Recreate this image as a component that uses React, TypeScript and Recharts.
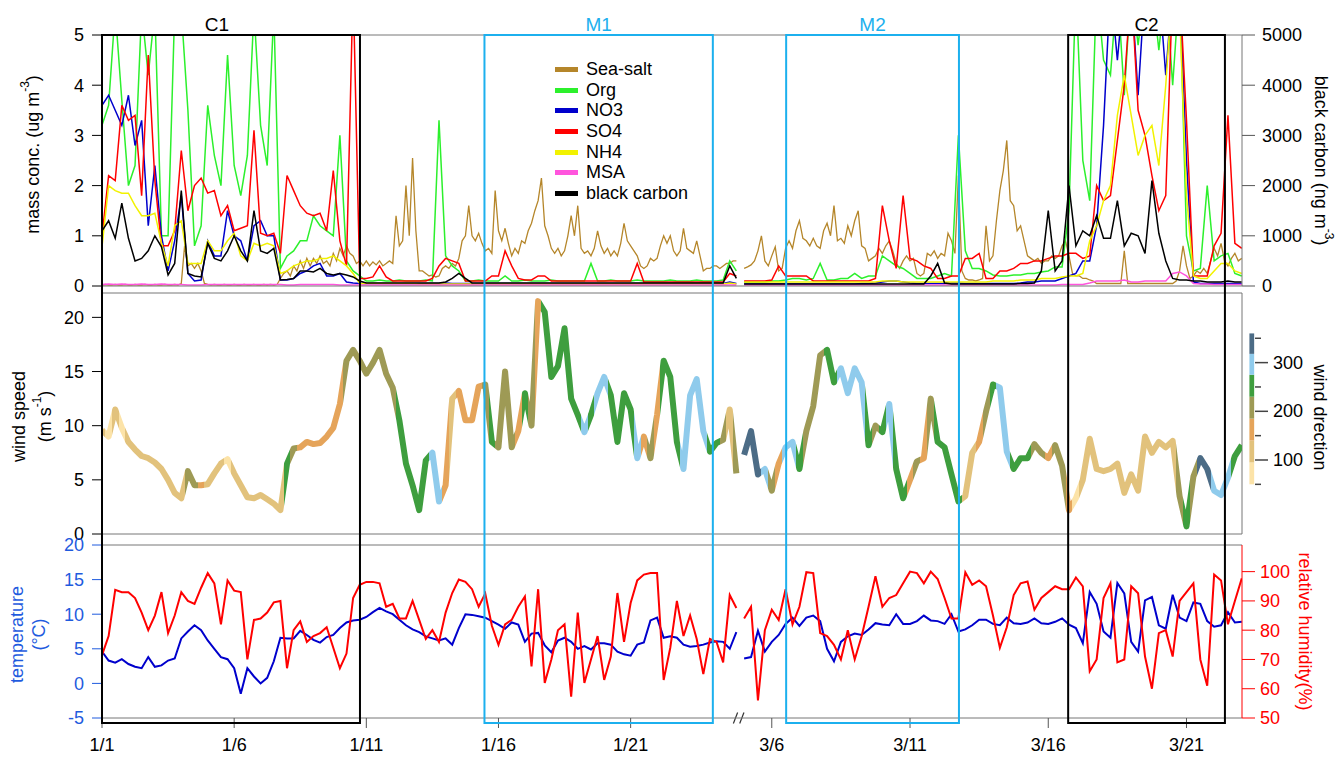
import React from 'react';
import {
  ComposedChart,
  Line,
  XAxis,
  YAxis,
  ReferenceArea,
  ReferenceLine,
  Legend,
} from 'recharts';

const FONT = '"Liberation Sans", Arial, sans-serif';
const WIDTH = 1336;
const CYAN = '#1CB0EE';
const TEMP_LINE = '#0000CC';
const TEMP_TEXT = '#1F5BDE';
const RH_RED = '#FF0000';
const FRAME = '#777';

// samples every 6 h (sea-salt every 3 h): 1/1 -> 1/25 and 3/5 -> 3/23
const STEP = 0.25;
const SALT_STEP = 0.125;
const JAN_FIRST = 1;
const MAR_FIRST = 5;

// broken time axis, in January-day units; March days are drawn a little wider
const MAR6_POS = 25.34;
const MAR_SCALE = 1.046;
const T_MAX = 43.13;
const janPos = (day: number) => day - 1;
const marPos = (day: number) => MAR6_POS + (day - 6) * MAR_SCALE;
const datePos = (month: number, day: number) => (month === 1 ? janPos(day) : marPos(day));

const TICK_DATES: [number, number][] = [
  [1, 1], [1, 6], [1, 11], [1, 16], [1, 21], [3, 6], [3, 11], [3, 16], [3, 21],
];

const MASS_TICKS = [0, 1, 2, 3, 4, 5];
const BC_TICKS = [0, 1000, 2000, 3000, 4000, 5000];
const WS_TICKS = [0, 5, 10, 15, 20];
const WS_MAX = 22.25;
const WD_DOMAIN = [-52, 443];
const WD_TICKS = [50, 100, 150, 200, 250, 300, 350];
const WD_LABELLED = [100, 200, 300];
const TEMP_TICKS = [-5, 0, 5, 10, 15, 20];
const RH_TICKS = [50, 60, 70, 80, 90, 100];
const RH_TOP = 109.1;

// wind direction colour bins (degrees)
const WD_FROM = 50;
const WD_BINS = [
  { upTo: 95, color: '#FCE3A8' },
  { upTo: 140, color: '#E2C27C' },
  { upTo: 185, color: '#E5A45A' },
  { upTo: 230, color: '#9E9A55' },
  { upTo: 275, color: '#3E9E3E' },
  { upTo: 318, color: '#8FCBEC' },
  { upTo: 360, color: '#4C6C86' },
];
const COLORBAR_X = [43.41, 43.59];

const PERIODS = [
  { name: 'C1', from: [1, 1], to: [1, 10.76], color: '#000', labelDx: -14 },
  { name: 'M1', from: [1, 15.47], to: [1, 24.11], color: CYAN, labelDx: 0 },
  { name: 'M2', from: [3, 6.52], to: [3, 12.77], color: CYAN, labelDx: 0 },
  { name: 'C2', from: [3, 16.72], to: [3, 22.39], color: '#000', labelDx: 0 },
];

const TOP_SERIES = [
  { key: 'seaSalt', name: 'Sea-salt', color: '#B5862A', axis: 'mass' },
  { key: 'org', name: 'Org', color: '#2CF02C', axis: 'mass' },
  { key: 'no3', name: 'NO3', color: '#0000CC', axis: 'mass' },
  { key: 'so4', name: 'SO4', color: '#FF0000', axis: 'mass' },
  { key: 'nh4', name: 'NH4', color: '#F2F200', axis: 'mass' },
  { key: 'msa', name: 'MSA', color: '#FF55DD', axis: 'mass' },
  { key: 'bc', name: 'black carbon', color: '#000000', axis: 'bc' },
];

// ---- sea-salt, 3-hourly (one line per day) ----
const SEA_SALT_JAN = [
  0.02, 0.03, 0.02, 0.02, 0.03, 0.02, 0.02, 0.03,
  0.02, 0.02, 0.03, 0.02, 0.02, 0.03, 0.02, 0.02,
  0.03, 0.02, 0.02, 0.03, 0.02, 0.02, 0.03, 0.02,
  0.05, 0.8, 0.4, 0.45, 0.35, 0.45, 0.3, 0.05,
  0.03, 0.02, 0.03, 0.02, 0.02, 0.03, 0.02, 0.02,
  0.03, 0.02, 0.02, 0.03, 0.02, 0.02, 0.03, 0.02,
  0.02, 0.03, 0.02, 0.03, 0.02, 0.03, 0.15, 0.25,
  0.3, 0.2, 0.4, 0.3, 0.5, 0.35, 0.55, 0.4,
  0.55, 0.45, 0.6, 0.45, 0.5, 0.4, 0.65, 0.5,
  0.75, 0.6, 0.8, 0.65, 0.6, 0.45, 0.5, 0.4,
  0.5, 0.4, 0.48, 0.42, 0.5, 0.4, 0.45, 0.5,
  0.45, 1.4, 0.8, 0.9, 2.0, 1.0, 2.55, 1.1,
  0.3, 0.3, 0.25, 0.2, 0.22, 0.18, 0.2, 0.35,
  0.4, 0.35, 0.45, 0.4, 0.55, 0.9, 1.0, 1.6,
  1.0, 0.9, 1.05, 0.85, 0.7, 0.75, 0.65, 1.9,
  1.1, 0.9, 1.15, 0.85, 0.6, 0.75, 0.65, 0.9,
  0.85, 1.1, 1.25, 1.5, 1.7, 2.15, 1.2, 1.0,
  0.75, 0.65, 0.75, 0.6, 0.7, 1.0, 1.4, 1.0,
  1.6, 0.75, 0.65, 0.7, 0.6, 0.75, 1.1, 0.8,
  0.65, 0.75, 0.6, 0.7, 0.6, 0.85, 1.25, 0.9,
  0.8, 0.7, 0.6, 0.4, 0.35, 0.4, 0.55, 0.5,
  0.55, 0.8, 1.0, 0.85, 1.0, 0.7, 0.6, 0.7,
  1.15, 0.75, 0.7, 0.65, 0.9, 0.6, 0.3, 0.35,
  0.35, 0.4, 0.4, 0.35, 0.4, 0.45, 0.45, 0.5,
  0.5,
];
const SEA_SALT_MAR = [
  0.35, 0.38, 0.42, 0.5, 0.7, 1.0, 0.5, 0.4,
  0.6, 0.78, 0.3, 0.35, 0.75, 0.9, 0.75, 1.1,
  1.3, 0.95, 0.9, 0.8, 0.95, 0.8, 0.75, 1.1,
  1.25, 1.0, 1.6, 0.9, 0.95, 0.85, 1.2, 1.0,
  1.3, 1.5, 0.8, 0.75, 0.5, 0.55, 0.6, 0.75,
  0.65, 0.8, 0.9, 0.7, 0.45, 0.35, 0.5, 0.6,
  0.5, 0.55, 0.25, 0.2, 0.25, 0.65, 0.6, 0.7,
  0.55, 0.65, 0.6, 1.05, 0.9, 0.65, 2.2, 0.3,
  0.15, 0.12, 0.12, 0.1, 0.12, 0.15, 1.2, 0.5,
  0.6, 1.3, 1.9, 2.3, 2.9, 1.7, 1.6, 1.1,
  1.2, 0.9, 0.6, 0.55, 0.5, 0.55, 0.45, 0.5,
  0.5, 0.6, 0.55, 0.6, 0.8, 0.9, 0.6, 0.25,
  0.2, 0.2, 0.15, 0.15, 0.12, 0.1, 0.05, 0.05,
  0.05, 0.05, 0.05, 0.05, 0.05, 0.05, 0.7, 0.05,
  0.05, 0.05, 0.05, 0.05, 0.05, 0.05, 0.05, 0.05,
  0.05, 0.05, 0.05, 0.05, 0.05, 0.1, 0.3, 0.8,
  0.4, 0.15, 0.2, 0.3, 0.25, 0.35, 0.25, 0.5,
  0.75, 0.6, 0.85, 0.5, 0.4, 0.55, 0.65, 0.5,
  0.55,
];

// ---- January (1/1 .. 1/25, 6-hourly) ----
const ORG_JAN = [
  3.2, 3.6, 5.5, 3.7, 2.0, 2.4, 5.5, 4.2, 5.5, 1.0, 1.0, 5.5,
  5.5, 3.5, 0.8, 1.2, 3.6, 2.6, 2.0, 4.6, 2.4, 1.8, 2.6, 5.5,
  3.2, 2.4, 5.5, 0.35, 0.6, 0.7, 0.9, 0.9, 1.4, 1.2, 1.1, 1.0,
  3.0, 0.5, 0.3, 0.2, 0.1, 0.1, 0.12, 0.1, 0.1, 0.12, 0.1, 0.1,
  0.1, 0.12, 0.1, 3.3, 0.6, 0.4, 0.3, 0.1, 0.1, 0.12, 0.1, 0.1,
  0.1, 0.2, 0.1, 0.1, 0.12, 0.1, 0.1, 0.1, 0.12, 0.1, 0.1, 0.1,
  0.1, 0.1, 0.45, 0.1, 0.1, 0.12, 0.1, 0.1, 0.1, 0.12, 0.1, 0.1,
  0.1, 0.1, 0.12, 0.1, 0.1, 0.1, 0.12, 0.1, 0.1, 0.1, 0.12, 0.5,
  0.3,
];
const NO3_JAN = [
  3.6, 3.8, 3.5, 3.2, 3.8, 2.8, 3.3, 1.2, 2.4, 1.0, 0.3, 0.9,
  1.8, 0.25, 0.1, 0.12, 0.9, 0.6, 0.6, 1.5, 1.0, 0.9, 0.5, 1.2,
  1.3, 1.0, 1.0, 0.12, 0.12, 0.15, 0.25, 0.3, 0.4, 0.45, 0.2, 0.2,
  0.25, 0.08, 0.06, 0.05, 0.05, 0.05, 0.05, 0.05, 0.05, 0.05, 0.05, 0.05,
  0.05, 0.05, 0.05, 0.05, 0.06, 0.05, 0.05, 0.05, 0.05, 0.05, 0.05, 0.05,
  0.05, 0.05, 0.05, 0.05, 0.05, 0.05, 0.05, 0.05, 0.05, 0.05, 0.05, 0.05,
  0.05, 0.05, 0.05, 0.05, 0.05, 0.05, 0.05, 0.05, 0.05, 0.05, 0.05, 0.05,
  0.05, 0.05, 0.05, 0.05, 0.05, 0.05, 0.05, 0.05, 0.05, 0.05, 0.05, 0.08,
  0.05,
];
const SO4_JAN = [
  1.0, 2.2, 2.1, 3.6, 3.3, 3.4, 1.8, 4.6, 2.1, 0.8, 0.8, 1.1,
  2.7, 1.5, 2.0, 2.15, 1.85, 1.9, 1.4, 1.6, 1.1, 1.15, 1.2, 3.1,
  1.05, 1.0, 1.05, 0.65, 2.2, 1.9, 1.6, 1.45, 1.4, 1.45, 1.1, 2.3,
  0.9, 0.4, 6.0, 0.15, 0.15, 0.18, 0.4, 0.18, 0.1, 0.1, 0.1, 0.1,
  0.1, 0.1, 0.15, 0.4, 0.55, 0.5, 0.45, 0.1, 0.1, 0.1, 0.1, 0.2,
  0.2, 0.7, 0.4, 0.15, 0.12, 0.12, 0.2, 0.2, 0.1, 0.1, 0.1, 0.1,
  0.1, 0.1, 0.1, 0.1, 0.1, 0.1, 0.1, 0.1, 0.1, 0.45, 0.08, 0.08,
  0.08, 0.08, 0.08, 0.08, 0.08, 0.08, 0.08, 0.08, 0.08, 0.08, 0.08, 0.25,
  0.2,
];
const NH4_JAN = [
  0.78, 2.0, 1.9, 1.85, 1.85, 1.6, 1.4, 1.4, 1.45, 0.85, 0.4, 1.2,
  1.3, 0.45, 0.45, 0.45, 0.9, 0.7, 0.7, 0.9, 1.05, 0.6, 0.5, 0.85,
  0.8, 0.85, 0.8, 0.25, 0.3, 0.4, 0.45, 0.5, 0.5, 0.55, 0.55, 0.6,
  0.5, 0.4, 0.25, 0.05, 0.05, 0.05, 0.05, 0.05, 0.05, 0.05, 0.05, 0.05,
  0.04, 0.04, 0.04, 0.04, 0.04, 0.04, 0.04, 0.04, 0.04, 0.04, 0.04, 0.04,
  0.04, 0.04, 0.04, 0.04, 0.04, 0.04, 0.04, 0.04, 0.04, 0.04, 0.04, 0.04,
  0.04, 0.04, 0.04, 0.04, 0.04, 0.04, 0.04, 0.04, 0.04, 0.04, 0.04, 0.04,
  0.04, 0.04, 0.04, 0.04, 0.04, 0.04, 0.04, 0.04, 0.04, 0.04, 0.04, 0.06,
  0.04,
];
const MSA_JAN = [
  0.03, 0.04, 0.03, 0.04, 0.03, 0.03, 0.04, 0.03, 0.03, 0.04, 0.03, 0.03,
  0.03, 0.02, 0.02, 0.02, 0.03, 0.03, 0.03, 0.03, 0.03, 0.03, 0.03, 0.03,
  0.03, 0.03, 0.03, 0.03, 0.02, 0.02, 0.03, 0.03, 0.03, 0.03, 0.03, 0.03,
  0.02, 0.02, 0.02, 0.02, 0.02, 0.02, 0.02, 0.02, 0.02, 0.02, 0.02, 0.02,
  0.02, 0.02, 0.02, 0.02, 0.02, 0.02, 0.02, 0.02, 0.02, 0.02, 0.02, 0.02,
  0.02, 0.02, 0.02, 0.02, 0.02, 0.02, 0.02, 0.02, 0.02, 0.02, 0.02, 0.02,
  0.02, 0.02, 0.02, 0.02, 0.02, 0.02, 0.02, 0.02, 0.02, 0.02, 0.02, 0.02,
  0.02, 0.02, 0.02, 0.02, 0.02, 0.02, 0.02, 0.02, 0.02, 0.02, 0.02, 0.02,
  0.02,
];
const BC_JAN = [
  1100, 1300, 950, 1650, 950, 500, 550, 700, 1000, 780, 220, 450,
  1900, 250, 200, 180, 850, 550, 500, 700, 1000, 700, 500, 1500,
  700, 650, 750, 120, 130, 150, 300, 300, 280, 350, 250, 220,
  250, 220, 180, 100, 60, 60, 60, 60, 60, 60, 60, 60,
  60, 60, 60, 60, 80, 150, 250, 150, 60, 60, 60, 60,
  60, 60, 60, 60, 60, 60, 60, 60, 60, 60, 60, 60,
  60, 60, 60, 60, 60, 60, 60, 60, 60, 60, 60, 60,
  60, 60, 60, 60, 60, 60, 60, 60, 60, 60, 60, 400,
  150,
];
const WS_JAN = [
  9.6, 9.0, 11.5, 9.8, 8.5, 7.8, 7.2, 7.0, 6.6, 6.0, 5.0, 3.8,
  3.3, 5.8, 4.5, 4.5, 4.6, 5.6, 6.5, 6.9, 5.6, 4.5, 3.4, 3.3,
  3.6, 3.2, 2.8, 2.2, 6.5, 7.9, 8.0, 8.5, 8.3, 8.4, 9.0, 9.8,
  12.0, 16.0, 17.0, 16.0, 14.8, 15.8, 17.0, 14.8, 13.5, 10.5, 6.5, 4.5,
  2.2, 6.8, 7.5, 3.0, 4.5, 12.5, 13.2, 10.5, 10.5, 13.6, 13.8, 8.5,
  8.0, 15.0, 8.0, 9.5, 13.0, 10.0, 21.5, 20.5, 14.5, 15.5, 19.0, 12.5,
  11.0, 9.4, 11.0, 13.0, 14.5, 12.8, 8.5, 13.0, 11.5, 7.0, 9.0, 7.0,
  11.0, 16.0, 14.5, 8.5, 6.0, 12.8, 14.3, 9.5, 7.6, 8.4, 8.7, 11.5,
  5.6,
];
const WD_JAN = [
  120, 75, 120, 75, 120, 120, 120, 120, 120, 120, 120, 120,
  120, 210, 210, 165, 120, 120, 120, 75, 120, 120, 120, 120,
  120, 120, 120, 120, 250, 210, 165, 165, 165, 165, 165, 165,
  165, 210, 210, 210, 210, 210, 210, 210, 210, 250, 250, 250,
  250, 250, 295, 295, 165, 120, 165, 165, 165, 165, 210, 250,
  210, 210, 210, 165, 250, 210, 165, 250, 250, 250, 250, 250,
  250, 295, 250, 295, 295, 250, 250, 250, 250, 295, 165, 210,
  165, 250, 250, 250, 295, 295, 295, 295, 250, 250, 210, 120,
  210,
];
const TEMP_JAN = [
  4.6, 3.3, 3.0, 3.5, 2.8, 2.4, 2.2, 3.8, 2.4, 2.6, 3.3, 3.6,
  6.5, 7.5, 8.4, 7.7, 6.2, 5.0, 3.8, 3.5, 2.2, -1.5, 2.2, 1.0,
  0.0, 0.8, 3.2, 6.6, 6.5, 6.5, 7.6, 7.0, 6.3, 5.9, 6.7, 7.0,
  8.0, 8.8, 9.1, 9.2, 9.6, 10.3, 10.9, 10.4, 10.0, 9.2, 8.4, 7.8,
  7.4, 6.8, 6.5, 6.2, 6.5, 5.6, 8.0, 10.0, 9.9, 9.7, 9.5, 9.0,
  8.5, 7.9, 8.8, 8.5, 6.0, 7.2, 7.3, 5.5, 4.5, 6.2, 6.6, 6.0,
  5.0, 5.4, 4.9, 5.8, 5.8, 5.6, 4.6, 4.2, 4.0, 5.6, 5.9, 9.1,
  9.5, 6.6, 6.8, 6.6, 5.6, 5.3, 5.4, 5.6, 5.9, 6.1, 6.0, 5.0,
  7.4,
];
const RH_JAN = [
  71.5, 78, 93.8, 93, 93, 91, 86, 80, 85, 93, 79, 85,
  93, 90, 89, 94.5, 99.5, 96, 82, 97, 93.5, 93, 70, 83.5,
  84, 86, 89.5, 90, 67, 80, 83, 76, 78, 79, 81, 74,
  67, 72, 91, 95.5, 96.5, 96.5, 96, 88, 89, 84, 84, 90,
  83.5, 77, 80, 76, 86, 92.7, 97.3, 96.5, 94, 88, 92.5, 81.5,
  75, 82, 83.5, 88, 91.5, 67.6, 94, 62, 70, 80, 82, 57.3,
  86, 62, 70, 78, 63, 71, 92.7, 76, 89.3, 97, 99, 99.5,
  99.5, 63, 74, 90, 78, 85, 77, 65, 77, 76, 69, 92,
  87.6,
];

// ---- March (3/5 .. 3/23, 6-hourly) ----
const ORG_MAR = [
  0.08, 0.08, 0.08, 0.08, 0.1, 0.1, 0.12, 0.15, 0.15, 0.12, 0.15, 0.45,
  0.12, 0.12, 0.15, 0.15, 0.25, 0.15, 0.2, 0.2, 0.6, 0.5, 0.4, 0.35,
  0.25, 0.15, 0.15, 0.15, 0.2, 0.25, 0.2, 3.0, 0.7, 0.35, 0.35, 0.3,
  0.22, 0.2, 0.2, 0.22, 0.22, 0.25, 0.25, 0.28, 0.3, 0.38, 0.38, 1.5,
  6.0, 2.5, 1.7, 6.0, 4.5, 4.2, 6.0, 3.8, 6.0, 4.8, 6.0, 6.0,
  4.7, 6.0, 4.0, 6.0, 1.0, 0.3, 0.35, 2.0, 0.5, 0.6, 0.65, 0.25,
  0.2,
];
const NO3_MAR = [
  0.04, 0.04, 0.04, 0.04, 0.04, 0.04, 0.04, 0.04, 0.04, 0.04, 0.04, 0.04,
  0.04, 0.04, 0.04, 0.04, 0.04, 0.05, 0.05, 0.06, 0.08, 0.1, 0.1, 0.08,
  0.06, 0.05, 0.05, 0.05, 0.05, 0.05, 0.06, 0.06, 0.05, 0.05, 0.05, 0.05,
  0.05, 0.05, 0.05, 0.05, 0.06, 0.08, 0.08, 0.1, 0.1, 0.1, 0.15, 0.2,
  0.25, 0.5, 0.5, 1.2, 3.2, 6.0, 4.5, 6.0, 6.0, 3.8, 6.0, 6.0,
  6.0, 4.2, 6.0, 6.0, 2.5, 0.08, 0.05, 0.05, 0.05, 0.05, 0.05, 0.05,
  0.05,
];
const SO4_MAR = [
  0.1, 0.1, 0.1, 0.1, 0.12, 0.4, 0.2, 0.2, 0.2, 0.2, 0.1, 0.1,
  0.1, 0.1, 0.1, 0.1, 0.1, 0.1, 0.1, 0.15, 1.6, 0.9, 0.35, 1.8,
  0.55, 0.5, 0.4, 0.35, 0.15, 0.15, 0.2, 0.2, 0.55, 0.55, 0.65, 0.15,
  0.15, 0.3, 0.3, 0.35, 0.45, 0.45, 0.5, 0.5, 0.55, 0.6, 0.6, 0.65,
  0.65, 0.55, 0.6, 2.0, 1.7, 1.8, 2.9, 4.0, 6.0, 3.5, 3.0, 2.2,
  1.5, 1.8, 6.0, 6.0, 3.3, 0.2, 0.2, 0.2, 0.8, 1.05, 3.4, 0.85,
  0.75,
];
const NH4_MAR = [
  0.08, 0.08, 0.08, 0.08, 0.08, 0.08, 0.08, 0.08, 0.08, 0.08, 0.08, 0.08,
  0.08, 0.08, 0.08, 0.08, 0.08, 0.08, 0.08, 0.08, 0.1, 0.1, 0.1, 0.08,
  0.08, 0.08, 0.08, 0.08, 0.08, 0.08, 0.08, 0.08, 0.08, 0.08, 0.08, 0.08,
  0.1, 0.1, 0.1, 0.1, 0.12, 0.12, 0.12, 0.15, 0.15, 0.15, 0.18, 0.2,
  0.2, 0.25, 0.9, 1.2, 1.7, 2.0, 3.4, 4.2, 3.4, 2.6, 3.0, 3.2,
  2.4, 4.0, 6.0, 5.5, 1.8, 0.2, 0.15, 0.15, 0.3, 0.45, 0.45, 0.3,
  0.25,
];
const MSA_MAR = [
  0.02, 0.02, 0.02, 0.02, 0.02, 0.02, 0.02, 0.02, 0.02, 0.02, 0.02, 0.02,
  0.02, 0.02, 0.02, 0.02, 0.02, 0.02, 0.02, 0.02, 0.02, 0.02, 0.02, 0.02,
  0.02, 0.02, 0.02, 0.02, 0.02, 0.02, 0.02, 0.02, 0.02, 0.02, 0.02, 0.02,
  0.02, 0.02, 0.02, 0.02, 0.02, 0.02, 0.02, 0.02, 0.02, 0.02, 0.03, 0.03,
  0.03, 0.03, 0.06, 0.1, 0.1, 0.1, 0.1, 0.12, 0.08, 0.08, 0.1, 0.1,
  0.1, 0.1, 0.25, 0.28, 0.2, 0.05, 0.04, 0.04, 0.03, 0.03, 0.03, 0.03,
  0.03,
];
const BC_MAR = [
  40, 40, 40, 40, 40, 40, 40, 40, 40, 40, 40, 40,
  40, 40, 40, 40, 40, 40, 40, 40, 40, 40, 40, 40,
  40, 40, 40, 200, 450, 60, 40, 40, 40, 40, 40, 40,
  40, 40, 40, 40, 50, 50, 60, 300, 1500, 300, 500, 2000,
  800, 1100, 1000, 1400, 950, 950, 1700, 800, 1050, 1000, 650, 2100,
  1050, 500, 150, 120, 120, 100, 100, 80, 80, 80, 100, 80,
  80,
];
const WS_MAR = [
  7.3, 9.5, 5.5, 6.0, 4.0, 6.5, 8.0, 8.5, 6.0, 9.5, 11.8, 16.5,
  17.0, 14.0, 15.3, 13.0, 15.3, 14.0, 8.2, 10.0, 9.4, 12.0, 6.0, 3.3,
  5.0, 6.7, 7.0, 12.5, 8.5, 8.0, 5.5, 3.0, 3.5, 7.5, 8.5, 11.3,
  13.8, 13.5, 7.6, 6.0, 7.0, 7.0, 8.3, 7.5, 7.0, 8.2, 6.3, 2.2,
  3.3, 5.0, 8.8, 6.0, 5.8, 6.0, 6.5, 3.8, 5.5, 4.0, 9.0, 7.5,
  8.5, 8.0, 8.6, 3.5, 0.7, 5.3, 7.0, 6.0, 4.0, 3.6, 5.2, 7.2,
  8.2,
];
const WD_MAR = [
  340, 340, 340, 295, 210, 165, 295, 295, 250, 210, 210, 210,
  250, 250, 295, 295, 295, 295, 250, 210, 250, 295, 250, 250,
  165, 210, 165, 210, 250, 250, 250, 250, 120, 120, 165, 210,
  250, 295, 295, 250, 250, 250, 210, 210, 165, 210, 210, 165,
  75, 120, 120, 120, 120, 120, 120, 120, 120, 120, 120, 120,
  120, 120, 120, 210, 250, 210, 340, 340, 295, 295, 295, 250,
  250,
];
const TEMP_MAR = [
  3.6, 3.8, 7.6, 4.6, 6.0, 7.0, 8.6, 9.5, 8.3, 9.5, 9.8, 9.0,
  5.0, 3.2, 6.0, 6.8, 7.2, 7.0, 7.8, 8.7, 8.5, 8.4, 10.0, 8.6,
  8.6, 9.0, 9.8, 9.1, 9.0, 8.6, 10.0, 7.5, 7.8, 8.4, 9.2, 9.2,
  8.6, 8.4, 9.5, 8.7, 8.6, 8.8, 9.4, 8.7, 8.6, 8.9, 9.4, 8.5,
  8.0, 5.8, 13.2, 11.5, 7.5, 6.6, 14.5, 13.0, 6.0, 4.6, 12.0, 12.5,
  8.4, 7.9, 12.8, 9.5, 9.0, 11.7, 11.5, 9.0, 8.2, 8.4, 10.3, 8.8,
  8.9,
];
const RH_MAR = [
  84, 88, 56, 80, 87, 83.5, 94, 82, 88, 99.8, 99.5, 79,
  78, 75, 70, 80, 70, 77.9, 88, 98.4, 88, 91, 92, 96,
  100, 99.5, 96, 100, 97.5, 91, 84, 84, 99.8, 95.5, 97, 95,
  85, 74, 81, 92, 96, 96.6, 87, 91, 93, 95, 94, 94,
  98, 95, 66, 70, 91, 96, 69, 70, 95, 92.6, 71, 60,
  79, 80, 71, 90, 93, 96, 70, 61, 99, 97, 82, 90,
  97.7,
];

const SERIES_JAN: Record<string, number[]> = {
  org: ORG_JAN, no3: NO3_JAN, so4: SO4_JAN, nh4: NH4_JAN, msa: MSA_JAN, bc: BC_JAN,
  ws: WS_JAN, wd: WD_JAN, temp: TEMP_JAN, rh: RH_JAN,
};
const SERIES_MAR: Record<string, number[]> = {
  org: ORG_MAR, no3: NO3_MAR, so4: SO4_MAR, nh4: NH4_MAR, msa: MSA_MAR, bc: BC_MAR,
  ws: WS_MAR, wd: WD_MAR, temp: TEMP_MAR, rh: RH_MAR,
};

type Row = Record<string, number | null>;

// one table for both campaigns, with an empty row between them so lines break
function buildRows(jan: Record<string, number[]>, mar: Record<string, number[]>, step: number): Row[] {
  const keys = Object.keys(jan);
  const rows: Row[] = [];
  const add = (src: Record<string, number[]>, pos: (i: number) => number) => {
    for (let i = 0; i < src[keys[0]].length; i++) {
      const row: Row = { t: pos(i) };
      keys.forEach((k) => { row[k] = src[k][i]; });
      rows.push(row);
    }
  };
  add(jan, (i) => janPos(JAN_FIRST + i * step));
  const gap: Row = { t: (janPos(25) + marPos(MAR_FIRST)) / 2 };
  keys.forEach((k) => { gap[k] = null; });
  rows.push(gap);
  add(mar, (i) => marPos(MAR_FIRST + i * step));
  return rows;
}

const wdColor = (deg: number) => (WD_BINS.find((b) => deg <= b.upTo) || WD_BINS[WD_BINS.length - 1]).color;

// hard-stop horizontal gradient: each sample gets the colour of its direction
function windStops(rows: Row[]) {
  const pts = rows.filter((r) => r.ws != null) as { t: number; wd: number }[];
  const t0 = pts[0].t;
  const span = pts[pts.length - 1].t - t0;
  const stops: { off: number; color: string }[] = [];
  pts.forEach((p, i) => {
    const prev = pts[i - 1];
    const next = pts[i + 1];
    const a = prev ? (prev.t + p.t) / 2 : p.t;
    const b = next ? (p.t + next.t) / 2 : p.t;
    const color = wdColor(p.wd);
    stops.push({ off: (a - t0) / span, color }, { off: (b - t0) / span, color });
  });
  return stops;
}

const AxisTitle = (props: any) => {
  const { viewBox, shiftX, shiftY = 0, rot, tint = '#000', lineGap = 0, titleLines } = props;
  if (!viewBox) return null;
  const cx = viewBox.x + shiftX;
  const cy = viewBox.y + viewBox.height / 2 + shiftY;
  return (
    <g transform={`translate(${cx},${cy}) rotate(${rot})`}>
      {titleLines.map((line: React.ReactNode, i: number) => (
        <text
          key={i}
          x={0}
          y={(i - (titleLines.length - 1) / 2) * lineGap}
          textAnchor="middle"
          dominantBaseline="central"
          fill={tint}
          fontSize={18}
        >
          {line}
        </text>
      ))}
    </g>
  );
};

const WdTick = (props: any) => {
  const { x, y, payload } = props;
  const major = WD_LABELLED.includes(payload.value);
  return (
    <g>
      <line x1={x + 13} x2={x + (major ? 26 : 19)} y1={y} y2={y} stroke="#444" strokeWidth={1.5} />
      {major && (
        <text x={x + 31} y={y} dominantBaseline="central" fontSize={18} fill="#000">
          {payload.value}
        </text>
      )}
    </g>
  );
};

const renderLegend = () => (
  <div style={{ fontSize: 18, color: '#000', fontFamily: FONT }}>
    {TOP_SERIES.map((s) => (
      <div key={s.key} style={{ display: 'flex', alignItems: 'center', height: 20.7 }}>
        <span style={{ display: 'inline-block', width: 23, height: 5, background: s.color, marginRight: 8 }} />
        <span>{s.name}</span>
      </div>
    ))}
  </div>
);

const lineProps = { type: 'linear' as const, dot: false, activeDot: false, isAnimationActive: false };

export default function App() {
  const rows = buildRows(SERIES_JAN, SERIES_MAR, STEP);
  const saltRows = buildRows({ seaSalt: SEA_SALT_JAN }, { seaSalt: SEA_SALT_MAR }, SALT_STEP);
  const stops = windStops(rows);
  const xTicks = TICK_DATES.map(([m, d]) => datePos(m, d));
  const tickLabel = (v: number) => {
    const i = xTicks.findIndex((p) => Math.abs(p - v) < 1e-6);
    return i >= 0 ? `${TICK_DATES[i][0]}/${TICK_DATES[i][1]}` : '';
  };
  const breakAt = (janPos(25) + marPos(MAR_FIRST)) / 2 - 0.02;

  return (
    <div style={{ position: 'fixed', left: 0, top: 0, width: WIDTH, height: 757, overflow: 'hidden', background: '#fff', fontFamily: FONT }}>
      {/* aerosol mass concentrations */}
      <div style={{ position: 'absolute', left: 0, top: 0 }}>
        <ComposedChart width={WIDTH} height={300} data={rows} margin={{ top: 35, right: 0, bottom: 13, left: 0 }}>
          <XAxis type="number" dataKey="t" domain={[0, T_MAX]} allowDataOverflow height={1} tick={false} tickLine={false} axisLine={{ stroke: FRAME }} />
          <YAxis
            yAxisId="mass"
            domain={[0, 5]}
            allowDataOverflow
            ticks={MASS_TICKS}
            interval={0}
            width={102}
            tickSize={10}
            tickMargin={8}
            tick={{ fill: '#000', fontSize: 18 }}
            tickLine={{ stroke: '#000' }}
            axisLine={{ stroke: '#000', strokeWidth: 2 }}
            label={
              <AxisTitle
                shiftX={33}
                shiftY={-6}
                rot={-90}
                titleLines={[<>mass conc. (ug m<tspan dy={-8} fontSize={12}>-3</tspan><tspan dy={8}>)</tspan></>]}
              />
            }
          />
          <YAxis
            yAxisId="bc"
            orientation="right"
            domain={[0, 5000]}
            allowDataOverflow
            ticks={BC_TICKS}
            interval={0}
            width={94}
            tickSize={13}
            tickMargin={7}
            tick={{ fill: '#000', fontSize: 18 }}
            tickLine={{ stroke: '#555' }}
            axisLine={{ stroke: FRAME }}
            label={
              <AxisTitle
                shiftX={79}
                rot={90}
                titleLines={[<>black carbon (ng m<tspan dy={-8} fontSize={12}>-3</tspan><tspan dy={8}>)</tspan></>]}
              />
            }
          />
          <ReferenceLine yAxisId="mass" y={5} stroke={FRAME} />
          {TOP_SERIES.map((s) => (
            <Line
              key={s.key}
              {...lineProps}
              data={s.key === 'seaSalt' ? saltRows : undefined}
              yAxisId={s.axis}
              dataKey={s.key}
              name={s.name}
              stroke={s.color}
              strokeWidth={s.key === 'seaSalt' ? 1.3 : 1.5}
            />
          ))}
          <Legend content={renderLegend} layout="vertical" align="center" verticalAlign="middle" wrapperStyle={{ left: 555, top: 59, width: 180 }} />
        </ComposedChart>
      </div>

      {/* wind speed coloured by wind direction */}
      <div style={{ position: 'absolute', left: 0, top: 288 }}>
        <ComposedChart width={WIDTH} height={260} data={rows} margin={{ top: 5, right: 0, bottom: 14, left: 0 }}>
          <defs>
            <linearGradient id="wdGrad" x1="0" y1="0" x2="1" y2="0">
              {stops.map((s, i) => (
                <stop key={i} offset={s.off} stopColor={s.color} />
              ))}
            </linearGradient>
          </defs>
          <XAxis hide type="number" dataKey="t" domain={[0, T_MAX]} allowDataOverflow />
          <YAxis
            yAxisId="ws"
            domain={[0, WS_MAX]}
            allowDataOverflow
            ticks={WS_TICKS}
            interval={0}
            width={102}
            tickSize={10}
            tickMargin={8}
            tick={{ fill: '#000', fontSize: 18 }}
            tickLine={{ stroke: '#000' }}
            axisLine={{ stroke: '#000', strokeWidth: 2 }}
            label={
              <AxisTitle
                shiftX={32}
                shiftY={3}
                rot={-90}
                lineGap={26}
                titleLines={['wind speed', <>(m s<tspan dy={-8} fontSize={12}>-1</tspan><tspan dy={8}>)</tspan></>]}
              />
            }
          />
          <YAxis
            yAxisId="wd"
            orientation="right"
            domain={WD_DOMAIN}
            allowDataOverflow
            ticks={WD_TICKS}
            interval={0}
            width={94}
            axisLine={false}
            tickLine={false}
            tickSize={0}
            tickMargin={0}
            tick={<WdTick />}
            label={<AxisTitle shiftX={78} shiftY={4} rot={90} titleLines={['wind drection']} />}
          />
          <ReferenceArea yAxisId="ws" x1={0} x2={T_MAX} y1={0} y2={WS_MAX} fill="none" stroke={FRAME} ifOverflow="visible" />
          {WD_BINS.map((b, i) => (
            <ReferenceArea
              key={b.upTo}
              yAxisId="wd"
              x1={COLORBAR_X[0]}
              x2={COLORBAR_X[1]}
              y1={i === 0 ? WD_FROM : WD_BINS[i - 1].upTo}
              y2={b.upTo}
              fill={b.color}
              fillOpacity={1}
              stroke="none"
              ifOverflow="visible"
            />
          ))}
          <Line {...lineProps} yAxisId="ws" dataKey="ws" stroke="url(#wdGrad)" strokeWidth={6} strokeLinejoin="round" />
        </ComposedChart>
      </div>

      {/* temperature and relative humidity */}
      <div style={{ position: 'absolute', left: 0, top: 530 }}>
        <ComposedChart width={WIDTH} height={227} data={rows} margin={{ top: 15, right: 0, bottom: 0, left: 0 }}>
          <XAxis
            type="number"
            dataKey="t"
            domain={[0, T_MAX]}
            allowDataOverflow
            ticks={xTicks}
            interval={0}
            tickFormatter={tickLabel}
            height={39}
            tickSize={10}
            tickMargin={10}
            tick={{ fill: '#000', fontSize: 18 }}
            tickLine={{ stroke: '#555' }}
            axisLine={{ stroke: FRAME }}
          />
          <YAxis
            yAxisId="temp"
            domain={[-5, 20]}
            allowDataOverflow
            ticks={TEMP_TICKS}
            interval={0}
            width={102}
            tickSize={10}
            tickMargin={8}
            tick={{ fill: TEMP_TEXT, fontSize: 18 }}
            tickLine={{ stroke: TEMP_TEXT }}
            axisLine={{ stroke: TEMP_TEXT }}
            label={
              <AxisTitle shiftX={28} shiftY={3} rot={-90} lineGap={21.5} tint={TEMP_TEXT} titleLines={['temperature', '(°C)']} />
            }
          />
          <YAxis
            yAxisId="rh"
            orientation="right"
            domain={[50, RH_TOP]}
            allowDataOverflow
            ticks={RH_TICKS}
            interval={0}
            width={94}
            tickSize={13}
            tickMargin={5}
            tick={{ fill: RH_RED, fontSize: 18 }}
            tickLine={{ stroke: RH_RED }}
            axisLine={{ stroke: RH_RED }}
            label={<AxisTitle shiftX={63} rot={90} tint={RH_RED} titleLines={['relative humidity(%)']} />}
          />
          <ReferenceLine yAxisId="temp" y={20} stroke={FRAME} />
          <Line {...lineProps} yAxisId="temp" dataKey="temp" stroke={TEMP_LINE} strokeWidth={2} />
          <Line {...lineProps} yAxisId="rh" dataKey="rh" stroke={RH_RED} strokeWidth={2} />
          {/* axis break marks */}
          <ReferenceLine
            yAxisId="temp"
            segment={[{ x: breakAt - 0.08, y: -5 }, { x: breakAt + 0.08, y: -5 }]}
            stroke="#fff"
            strokeWidth={3}
            ifOverflow="visible"
          />
          {[-0.16, 0.08].map((d) => (
            <ReferenceLine
              key={d}
              yAxisId="temp"
              segment={[{ x: breakAt + d - 0.08, y: -5.8 }, { x: breakAt + d + 0.08, y: -4.2 }]}
              stroke="#333"
              strokeWidth={1.2}
              ifOverflow="visible"
            />
          ))}
        </ComposedChart>
      </div>

      {/* C1 / M1 / M2 / C2 period boxes over all three panels */}
      <div style={{ position: 'absolute', left: 0, top: 0, pointerEvents: 'none' }}>
        <ComposedChart width={WIDTH} height={757} data={rows} margin={{ top: 35, right: 94, bottom: 34, left: 102 }}>
          <XAxis hide type="number" dataKey="t" domain={[0, T_MAX]} allowDataOverflow />
          <YAxis hide domain={[0, 1]} allowDataOverflow />
          {PERIODS.map((p) => (
            <ReferenceArea
              key={p.name}
              x1={datePos(p.from[0], p.from[1])}
              x2={datePos(p.to[0], p.to[1])}
              y1={0}
              y2={1}
              fill="none"
              stroke={p.color}
              strokeWidth={2}
              ifOverflow="visible"
              label={{ value: p.name, position: 'top', offset: 4, fill: p.color, fontSize: 19, dx: p.labelDx }}
            />
          ))}
        </ComposedChart>
      </div>
    </div>
  );
}
